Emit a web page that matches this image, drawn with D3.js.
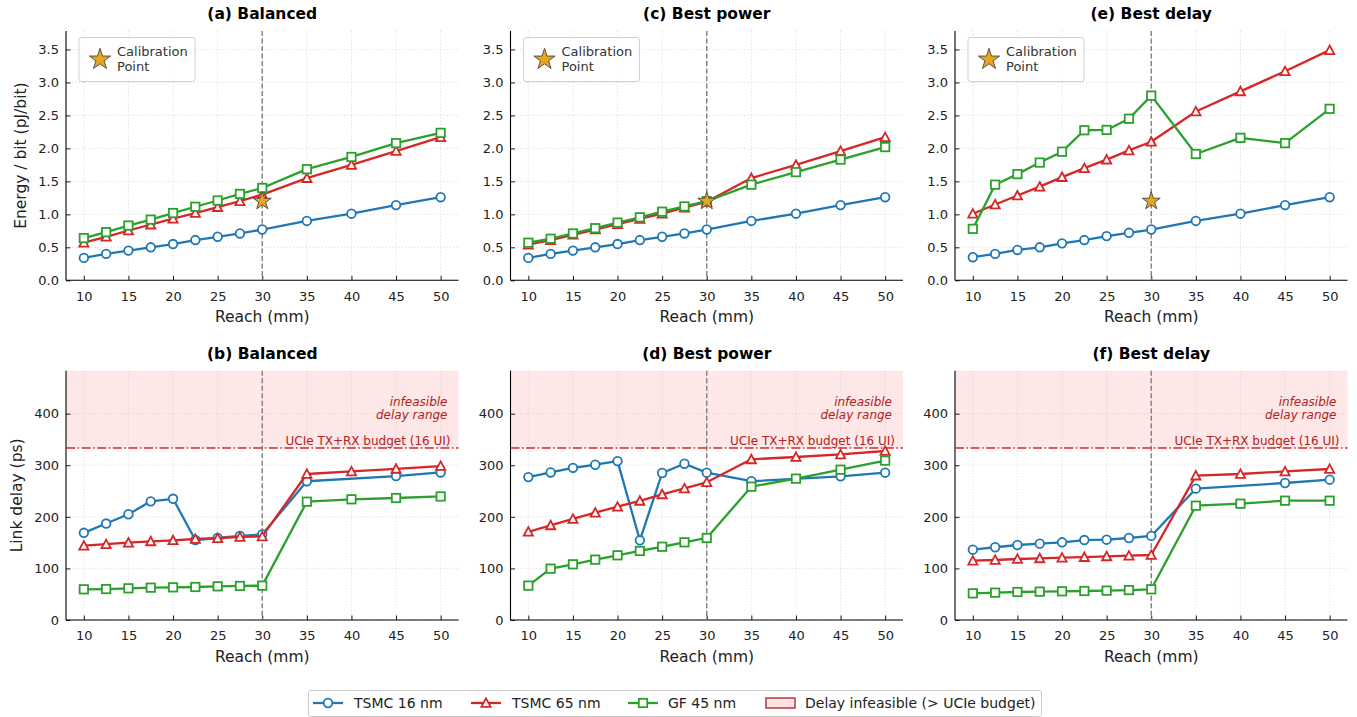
<!DOCTYPE html>
<html><head><meta charset="utf-8">
<script src="https://cdn.jsdelivr.net/npm/d3@7"></script>
<style>body{margin:0;background:#fff} text{font-family:"DejaVu Sans",sans-serif}</style>
</head><body><svg id="chart" width="1357" height="717"></svg>
<script>
// ---------- DATA ----------
const reach = [10, 12.5, 15, 17.5, 20, 22.5, 25, 27.5, 30, 35, 40, 45, 50];
const xTicks = [10, 15, 20, 25, 30, 35, 40, 45, 50];
const energyTicks = [0, 0.5, 1.0, 1.5, 2.0, 2.5, 3.0, 3.5];
const delayTicks = [0, 100, 200, 300, 400];
const seriesNames = ["TSMC 16 nm", "TSMC 65 nm", "GF 45 nm"];
const energyTitles = ["(a) Balanced", "(c) Best power", "(e) Best delay"];
const delayTitles = ["(b) Balanced", "(d) Best power", "(f) Best delay"];

// Energy / bit (pJ/bit)
const energyBalanced16 = [0.34, 0.40, 0.45, 0.50, 0.55, 0.61, 0.66, 0.71, 0.77, 0.90, 1.01, 1.14, 1.26];
const energyBalanced65 = [0.57, 0.66, 0.755, 0.845, 0.935, 1.02, 1.11, 1.20, 1.30, 1.55, 1.75, 1.96, 2.17];
const energyBalanced45 = [0.64, 0.73, 0.83, 0.92, 1.02, 1.115, 1.21, 1.31, 1.40, 1.685, 1.87, 2.08, 2.235];
const energyPower16 = [0.34, 0.40, 0.45, 0.50, 0.55, 0.61, 0.66, 0.71, 0.77, 0.90, 1.01, 1.14, 1.26];
const energyPower65 = [0.54, 0.61, 0.69, 0.77, 0.85, 0.93, 1.01, 1.10, 1.19, 1.55, 1.75, 1.96, 2.17];
const energyPower45 = [0.57, 0.63, 0.71, 0.79, 0.875, 0.955, 1.04, 1.12, 1.20, 1.45, 1.64, 1.83, 2.02];
const energyDelay16 = [0.35, 0.40, 0.46, 0.50, 0.56, 0.61, 0.67, 0.72, 0.77, 0.90, 1.01, 1.14, 1.26];
const energyDelay65 = [1.01, 1.15, 1.285, 1.42, 1.565, 1.70, 1.83, 1.97, 2.10, 2.56, 2.865, 3.17, 3.49];
const energyDelay45 = [0.78, 1.45, 1.61, 1.785, 1.95, 2.275, 2.28, 2.45, 2.80, 1.915, 2.16, 2.08, 2.60];

// Link delay (ps)
const delayBalanced16 = [169, 187, 205, 230, 235, 155, 159, 163, 166, 269, null, 279, 286];
const delayBalanced65 = [144, 147, 150, 152.5, 154.5, 157, 158.5, 161, 162, 283, 288, 293, 298.5];
const delayBalanced45 = [59.5, 60, 61.4, 62.7, 63.3, 64, 65.3, 66, 66.6, 229.4, 234, 236.5, 239.5];
const delayPower16 = [277, 286, 295, 301, 308, 154.5, 285, 303, 285.6, 269, null, 278.5, 285.6];
const delayPower65 = [171, 183.5, 196, 208, 219.7, 231, 243.6, 255, 267, 311.5, 316, 321, 327.6];
const delayPower45 = [66.6, 99.5, 108, 117, 125.4, 133.8, 142, 150.6, 159, 258.5, 274, 291.4, 309];
const delayDelay16 = [136.3, 141, 145.4, 148, 150.6, 155, 155.7, 159, 163, 254.6, null, 265.6, 272];
const delayDelay65 = [115, 116.3, 118.3, 119.5, 120.8, 122, 123.4, 124.7, 126, 280, 283, 288, 292.7];
const delayDelay45 = [51.7, 53, 54.3, 55, 55.6, 56.2, 56.9, 58, 59.5, 221.6, 225.5, 231.3, 231.3];

const calibrationReach = 30;
const calibrationEnergy = 1.2;
const ucieBudget = 333.3;
const energyMax = 3.78;
const delayMax = 483.3;

// ---------- STYLE / LAYOUT ----------
const colors = ["#1f77b4", "#d62728", "#2ca02c"];
const shapes = ["circle", "triangle", "square"];
const svg = d3.select("#chart");
const W = 392.5;
const colLeft = [66, 510.5, 955];
const rows = [{top: 31, bottom: 280.3}, {top: 370.7, bottom: 620}];
const energySets = [
  [energyBalanced16, energyBalanced65, energyBalanced45],
  [energyPower16, energyPower65, energyPower45],
  [energyDelay16, energyDelay65, energyDelay45]
];
const delaySets = [
  [delayBalanced16, delayBalanced65, delayBalanced45],
  [delayPower16, delayPower65, delayPower45],
  [delayDelay16, delayDelay65, delayDelay45]
];

function drawMarker(g, shape, color, cx, cy) {
  if (shape === "circle") {
    g.append("circle").attr("cx", cx).attr("cy", cy).attr("r", 4.3)
      .attr("fill", "#fff").attr("stroke", color).attr("stroke-width", 1.8);
  } else if (shape === "square") {
    g.append("rect").attr("x", cx - 4.2).attr("y", cy - 4.2).attr("width", 8.4).attr("height", 8.4)
      .attr("fill", "#fff").attr("stroke", color).attr("stroke-width", 1.8);
  } else {
    const r = 4.6;
    g.append("path").attr("d", `M${cx},${cy - r}L${cx + r},${cy + r * 0.85}L${cx - r},${cy + r * 0.85}Z`)
      .attr("fill", "#fff").attr("stroke", color).attr("stroke-width", 1.8).attr("stroke-linejoin", "miter");
  }
}

function panel(col, row, yMax, yTicks, yFmt, sets, title, isDelay) {
  const left = colLeft[col], r = rows[row];
  const x = d3.scaleLinear().domain([8, 52]).range([left, left + W]);
  const y = d3.scaleLinear().domain([0, yMax]).range([r.bottom, r.top]);
  const g = svg.append("g");

  if (isDelay) {
    g.append("rect").attr("x", left).attr("y", y(yMax)).attr("width", W)
      .attr("height", y(ucieBudget) - y(yMax)).attr("fill", "#fde7e7");
  }
  // grid
  const grid = g.append("g").attr("stroke", "#cfcfcf").attr("stroke-width", 0.8).attr("stroke-dasharray", "1,2.2");
  xTicks.forEach(t => grid.append("line").attr("x1", x(t)).attr("x2", x(t)).attr("y1", r.top).attr("y2", r.bottom));
  yTicks.forEach(t => grid.append("line").attr("x1", left).attr("x2", left + W).attr("y1", y(t)).attr("y2", y(t)));

  // axes
  const xa = g.append("g").attr("transform", `translate(0,${r.bottom})`)
    .call(d3.axisBottom(x).tickValues(xTicks).tickSize(-4.5).tickPadding(8).tickFormat(d3.format("d")));
  const ya = g.append("g").attr("transform", `translate(${left},0)`)
    .call(d3.axisLeft(y).tickValues(yTicks).tickSize(-4.5).tickPadding(7).tickFormat(yFmt));
  [xa, ya].forEach(a => {
    a.select(".domain").attr("stroke", "#000").attr("stroke-width", 1.1);
    a.selectAll(".tick line").attr("stroke", "#000").attr("stroke-width", 0.9);
    a.selectAll(".tick text").attr("font-size", 13).attr("fill", "#222").attr("font-family", "DejaVu Sans");
  });
  xa.select(".domain").attr("d", `M${left},0H${left + W}`);
  ya.select(".domain").attr("d", `M0,${r.bottom}V${r.top}`);
  xa.selectAll(".tick text").attr("dy", "0.95em");

  // vertical line at calibration reach
  g.append("line").attr("x1", x(calibrationReach)).attr("x2", x(calibrationReach))
    .attr("y1", r.top).attr("y2", r.bottom).attr("stroke", "#808080").attr("stroke-width", 1.4)
    .attr("stroke-dasharray", "5,2.5");

  if (isDelay) {
    g.append("line").attr("x1", left).attr("x2", left + W).attr("y1", y(ucieBudget)).attr("y2", y(ucieBudget))
      .attr("stroke", "#d62728").attr("stroke-width", 1.6).attr("stroke-dasharray", "9,2.5,1.6,2.5");
    g.append("text").attr("x", left + W - 8).attr("y", y(ucieBudget) - 3).attr("text-anchor", "end")
      .attr("font-size", 12).attr("fill", "#b22222").text("UCIe TX+RX budget (16 UI)");
    const it = g.append("text").attr("text-anchor", "end").attr("font-size", 12).attr("font-style", "italic").attr("fill", "#b22222");
    it.append("tspan").attr("x", left + W - 11).attr("y", r.top + 35).text("infeasible");
    it.append("tspan").attr("x", left + W - 11).attr("y", r.top + 48.7).text("delay range");
  }

  // series
  sets.forEach((vals, i) => {
    const pts = reach.map((rv, k) => ({x: rv, y: vals[k]})).filter(d => d.y !== null);
    const sg = g.append("g");
    sg.append("path").datum(pts)
      .attr("d", d3.line().x(d => x(d.x)).y(d => y(d.y)))
      .attr("fill", "none").attr("stroke", colors[i]).attr("stroke-width", 2.3).attr("stroke-linejoin", "round");
    pts.forEach(d => drawMarker(sg, shapes[i], colors[i], x(d.x), y(d.y)));
  });

  if (!isDelay) {
    g.append("path").attr("d", d3.symbol(d3.symbolStar).size(100)())
      .attr("transform", `translate(${x(calibrationReach)},${y(calibrationEnergy)})`)
      .attr("fill", "#e8a61e").attr("stroke", "#444").attr("stroke-width", 0.9);
    // legend box
    const lg = g.append("g").attr("transform", `translate(${left + 13},${r.top + 6.5})`);
    lg.append("rect").attr("width", 116).attr("height", 44).attr("rx", 2.5)
      .attr("fill", "#fff").attr("fill-opacity", 0.85).attr("stroke", "#d0d0d0").attr("stroke-width", 1);
    lg.append("path").attr("d", d3.symbol(d3.symbolStar).size(140)())
      .attr("transform", "translate(21,22)").attr("fill", "#e8a61e").attr("stroke", "#444").attr("stroke-width", 0.9);
    const lt = lg.append("text").attr("font-size", 13).attr("fill", "#333");
    lt.append("tspan").attr("x", 38).attr("y", 18.5).text("Calibration");
    lt.append("tspan").attr("x", 38).attr("y", 33.5).text("Point");
  }

  // title
  svg.append("text").attr("x", left + W / 2).attr("y", row === 0 ? 19 : 359).attr("text-anchor", "middle")
    .attr("font-size", 15.5).attr("font-weight", "bold").attr("fill", "#000").text(title);
  // x label
  svg.append("text").attr("x", left + W / 2).attr("y", r.bottom + 41.5).attr("text-anchor", "middle")
    .attr("font-size", 15.5).attr("fill", "#222").text("Reach (mm)");
}

for (let c = 0; c < 3; c++) {
  panel(c, 0, energyMax, energyTicks, d3.format(".1f"), energySets[c], energyTitles[c], false);
  panel(c, 1, delayMax, delayTicks, d3.format("d"), delaySets[c], delayTitles[c], true);
}

// y labels
svg.append("text").attr("transform", `translate(25.5,${(rows[0].top + rows[0].bottom) / 2}) rotate(-90)`)
  .attr("text-anchor", "middle").attr("font-size", 15.5).attr("fill", "#222").text("Energy / bit (pJ/bit)");
svg.append("text").attr("transform", `translate(21.5,${(rows[1].top + rows[1].bottom) / 2}) rotate(-90)`)
  .attr("text-anchor", "middle").attr("font-size", 15.5).attr("fill", "#222").text("Link delay (ps)");

// bottom legend
const leg = svg.append("g");
leg.append("rect").attr("x", 308.5).attr("y", 690.5).attr("width", 733).attr("height", 26).attr("rx", 2.5)
  .attr("fill", "#fff").attr("stroke", "#cccccc").attr("stroke-width", 1);
const legItems = [
  {x: 313, tx: 354}, {x: 471, tx: 512}, {x: 628, tx: 668}
];
legItems.forEach((it, i) => {
  leg.append("line").attr("x1", it.x).attr("x2", it.x + 30).attr("y1", 703).attr("y2", 703)
    .attr("stroke", colors[i]).attr("stroke-width", 2.3);
  drawMarker(leg, shapes[i], colors[i], it.x + 15, 703);
  leg.append("text").attr("x", it.tx).attr("y", 708).attr("font-size", 14).attr("fill", "#222").text(seriesNames[i]);
});
leg.append("rect").attr("x", 766).attr("y", 698).attr("width", 29).attr("height", 10)
  .attr("fill", "#fde2e2").attr("stroke", "#b53a3a").attr("stroke-width", 1.5);
leg.append("text").attr("x", 805).attr("y", 708).attr("font-size", 14).attr("fill", "#222")
  .text("Delay infeasible (> UCIe budget)");
</script></body></html>
